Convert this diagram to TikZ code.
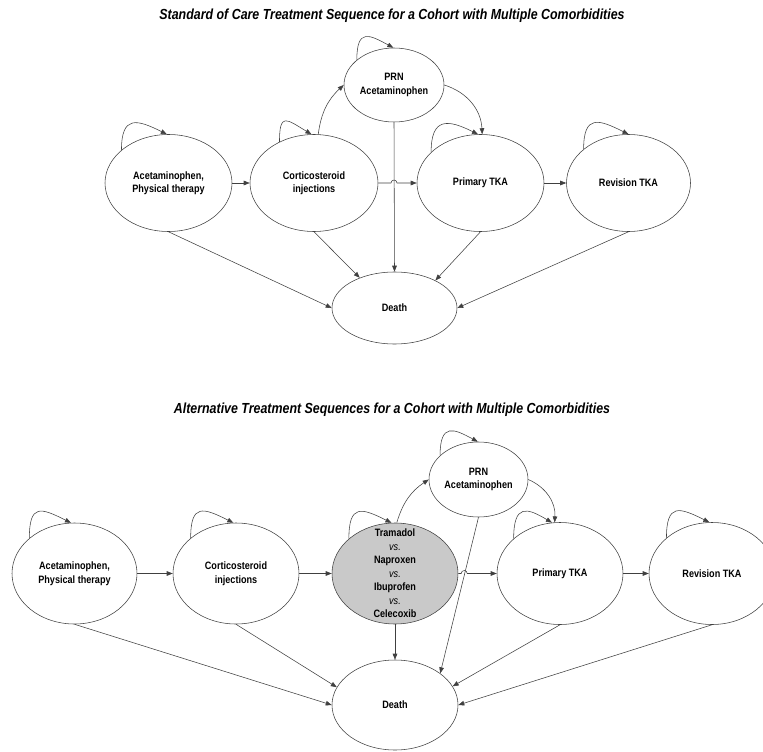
\documentclass[tikz,border=0pt]{standalone}
\usepackage{fontspec}
\setmainfont{Liberation Sans}[FakeStretch=0.85]
\usetikzlibrary{shapes.geometric,arrows.meta,calc}
\begin{document}
\begin{tikzpicture}[x=1pt,y=1pt,
  st/.style={ellipse,draw=black!75,line width=0.55pt,inner sep=0pt,align=center,
    font=\fontsize{10.7}{13.5}\selectfont\bfseries},
  lbl/.style={inner sep=0pt,align=center,font=\fontsize{10.7}{13.55}\selectfont\bfseries},
  arr/.style={draw=black!75,line width=0.55pt,-{Triangle[length=6pt,width=4.6pt]}},
  ttl/.style={anchor=base,inner sep=0pt,font=\fontsize{14.6}{16}\selectfont\bfseries\itshape}]
\useasboundingbox (0,0) rectangle (763,-752);
% ---------- titles
\node[ttl] (T1) at (392,-20) {Standard of Care Treatment Sequence for a Cohort with Multiple Comorbidities};
\node[ttl] (T2) at (392,-413) {Alternative Treatment Sequences for a Cohort with Multiple Comorbidities};
% ---------- top diagram
\node[st,minimum width=127,minimum height=97] (a1) at (168.5,-183) {Acetaminophen,\\Physical therapy};
\node[st,minimum width=128,minimum height=97] (c1) at (314,-183) {Corticosteroid\\injections};
\node[st,minimum width=100,minimum height=74] (p1) at (394,-85) {PRN\\Acetaminophen};
\node[st,minimum width=127,minimum height=97] (t1) at (480.5,-183) {Primary TKA};
\node[st,minimum width=124,minimum height=97] (r1) at (628.5,-183) {Revision TKA};
\node[st,minimum width=125,minimum height=72] (d1) at (394.5,-308) {Death};
% self loops
\draw[arr] (a1.145) .. controls +(0,35) and +(-30,15) .. (a1.92);
\draw[arr] (c1.130) .. controls +(0,30) and +(-25,15) .. (c1.93);
\draw[arr] (p1.146) .. controls +(0,32) and +(-24,13) .. (p1.91);
\draw[arr] (t1.148) .. controls +(0,35) and +(-30,15) .. (t1.93);
\draw[arr] (r1.143) .. controls +(0,35) and +(-30,15) .. (r1.90);
% transitions
\draw[arr] (a1.east) -- (c1.west);
\coordinate (h1) at (394,-183);
\draw[arr] (c1.east) -- ($(h1)+(-3,0)$) arc (180:0:3) -- (t1.west);
\draw[arr] (t1.east) -- (r1.west);
\draw[arr] (c1.85) to[bend left=20] (p1.west);
\draw[arr] (p1.east) to[bend left=35] (t1.88);
\draw[arr] (p1.south) -- (d1.north);
\draw[arr] (a1.south) -- (d1.west);
\draw[arr] (c1.south) -- (d1.139);
\draw[arr] (t1.south) -- (d1.34);
\draw[arr] (r1.south) -- (d1.east);
% ---------- bottom diagram
\node[st,minimum width=125,minimum height=101] (a2) at (74.5,-573.5) {Acetaminophen,\\Physical therapy};
\node[st,minimum width=126,minimum height=101] (c2) at (236,-573.5) {Corticosteroid\\injections};
\node[st,minimum width=126,minimum height=101,fill=black!21] (m2) at (395,-573.5) {};
\node[lbl] (m2t) at (m2.center)
  {Tramadol\\{\mdseries\itshape vs.}\\Naproxen\\{\mdseries\itshape vs.}\\Ibuprofen\\{\mdseries\itshape vs.}\\Celecoxib};
\node[st,minimum width=99,minimum height=75] (p2) at (478.5,-479.5) {PRN\\Acetaminophen};
\node[st,minimum width=126,minimum height=102] (t2) at (560,-573.5) {Primary TKA};
\node[st,minimum width=126,minimum height=102] (r2) at (712,-573.5) {Revision TKA};
\node[st,minimum width=126,minimum height=90] (d2) at (395,-705) {Death};
% self loops
\draw[arr] (a2.142) .. controls +(0,35) and +(-30,15) .. (a2.94);
\draw[arr] (c2.142) .. controls +(0,35) and +(-30,15) .. (c2.93);
\draw[arr] (m2.143) .. controls +(0,35) and +(-30,15) .. (m2.94);
\draw[arr] (p2.148) .. controls +(0,33) and +(-24,13) .. (p2.91);
\draw[arr] (t2.143) .. controls +(0,35) and +(-25,15) .. (t2.99);
\draw[arr] (r2.142) .. controls +(0,35) and +(-30,15) .. (r2.93);
% transitions
\draw[arr] (a2.east) -- (c2.west);
\draw[arr] (c2.east) -- (m2.west);
\coordinate (h2) at (464.2,-573.5);
\draw[arr] (m2.east) -- ($(h2)+(-3,0)$) arc (180:0:3) -- (t2.west);
\draw[arr] (t2.east) -- (r2.west);
\draw[arr] (m2.88) to[bend left=20] (p2.west);
\draw[arr] (p2.east) to[bend left=35] (t2.96);
\draw[arr] (m2.south) -- (d2.north);
\draw[arr] (p2.south) -- (d2.35);
\draw[arr] (a2.south) -- (d2.west);
\draw[arr] (c2.south) -- (d2.163);
\draw[arr] (t2.south) -- (d2.18);
\draw[arr] (r2.south) -- (d2.east);
\end{tikzpicture}
\end{document}
